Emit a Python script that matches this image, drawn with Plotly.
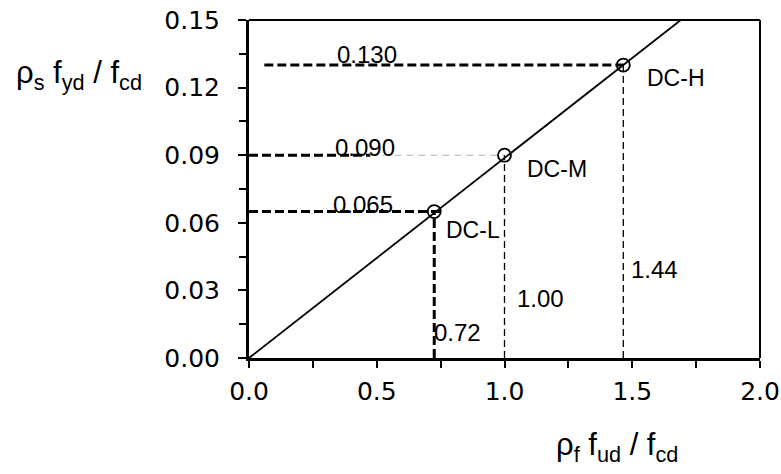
import plotly.graph_objects as go

# ---- data ----
levels = ["DC-L", "DC-M", "DC-H"]
rho_s_ratio = [0.065, 0.090, 0.130]          # rho_s f_yd / f_cd
rho_f_ratio = [0.725, 1.00, 1.465]           # rho_f f_ud / f_cd (marker positions)
rho_f_labels = ["0.72", "1.00", "1.44"]
rho_s_labels = ["0.065", "0.090", "0.130"]
line_x = [0.0, 1.69]
line_y = [0.0, 0.15]
h_guide_start = [0.0, 0.0, 0.06]             # left ends of horizontal guides
h_guide_thick_end = [0.76, 0.475, 1.465]     # end of the bold dashed part
x_ticks = [0.0, 0.5, 1.0, 1.5, 2.0]
y_ticks = [0.00, 0.03, 0.06, 0.09, 0.12, 0.15]

fig = go.Figure()

thick = dict(color="black", width=3, dash="9px,4px")
thin = dict(color="black", width=1.3, dash="7px,4px")
gray = dict(color="#b5b5b5", width=1.1, dash="7px,5px")

# horizontal guides
for i in range(3):
    fig.add_trace(go.Scatter(x=[h_guide_start[i], h_guide_thick_end[i]],
                             y=[rho_s_ratio[i], rho_s_ratio[i]],
                             mode="lines", line=thick, hoverinfo="skip"))
    if h_guide_thick_end[i] < rho_f_ratio[i]:
        fig.add_trace(go.Scatter(x=[h_guide_thick_end[i], rho_f_ratio[i]],
                                 y=[rho_s_ratio[i], rho_s_ratio[i]],
                                 mode="lines", line=gray, hoverinfo="skip"))

# vertical guides
for i in range(3):
    fig.add_trace(go.Scatter(x=[rho_f_ratio[i], rho_f_ratio[i]],
                             y=[0, rho_s_ratio[i]],
                             mode="lines", line=thick if i == 0 else thin,
                             hoverinfo="skip"))

# main line
fig.add_trace(go.Scatter(x=line_x, y=line_y, mode="lines",
                         line=dict(color="black", width=1.8), hoverinfo="skip"))

# points
fig.add_trace(go.Scatter(x=rho_f_ratio, y=rho_s_ratio, mode="markers",
                         marker=dict(symbol="circle-open", size=13,
                                     color="black", line=dict(width=1.8)),
                         text=levels, hoverinfo="text"))

num_font = dict(family="Liberation Sans, Arial", size=24, color="black")
dc_font = dict(family="Liberation Sans, Arial", size=23, color="black")

# value labels and class labels (centres)
label_pos_s = [(0.445, 0.0680), (0.454, 0.0932), (0.462, 0.1345)]
label_pos_f = [(0.816, 0.0115), (1.142, 0.0266), (1.587, 0.0391)]
label_pos_dc = [(0.877, 0.0568), (1.207, 0.0837), (1.671, 0.1243)]
for i in range(3):
    fig.add_annotation(x=label_pos_s[i][0], y=label_pos_s[i][1], text=rho_s_labels[i],
                       showarrow=False, font=num_font, xanchor="center", yanchor="middle")
    fig.add_annotation(x=label_pos_f[i][0], y=label_pos_f[i][1], text=rho_f_labels[i],
                       showarrow=False, font=num_font, xanchor="center", yanchor="middle")
    fig.add_annotation(x=label_pos_dc[i][0], y=label_pos_dc[i][1], text=levels[i],
                       showarrow=False, font=dc_font, xanchor="center", yanchor="middle")

# axis titles
title_font = dict(family="Liberation Sans, Arial", size=31, color="black")
fig.add_annotation(xref="paper", yref="paper", x=-0.3327, y=0.836,
                   text="ρ<sub>s</sub> f<sub>yd</sub> / f<sub>cd</sub>",
                   showarrow=False, font=title_font, xanchor="center", yanchor="middle")
fig.add_annotation(xref="paper", yref="paper", x=0.720, y=-0.262,
                   text="ρ<sub>f</sub> f<sub>ud</sub> / f<sub>cd</sub>",
                   showarrow=False, font=title_font, xanchor="center", yanchor="middle")

# top and right frame (thinner)
fig.add_shape(type="line", xref="paper", yref="paper", x0=0, x1=1, y0=1, y1=1,
              line=dict(color="black", width=2))
fig.add_shape(type="line", xref="paper", yref="paper", x0=1, x1=1, y0=0, y1=1,
              line=dict(color="black", width=2))

tick_font = dict(family="DejaVu Sans", size=25, color="black")

fig.update_xaxes(range=[0, 2], tickvals=x_ticks, ticktext=[f"{v:.1f}" for v in x_ticks],
                 showgrid=False, zeroline=False, showline=True, linecolor="black",
                 linewidth=3, ticks="outside", ticklen=7, tickwidth=2, tickcolor="black",
                 tickfont=tick_font, ticklabelstandoff=2, automargin=False,
                 minor=dict(tickvals=[0.25, 0.75, 1.25, 1.75], ticks="outside",
                            ticklen=7, tickwidth=2, tickcolor="black", showgrid=False))
fig.update_yaxes(range=[0, 0.15], tickvals=y_ticks, ticktext=[f"{v:.2f}" for v in y_ticks],
                 showgrid=False, zeroline=False, showline=True, linecolor="black",
                 linewidth=3, ticks="outside", ticklen=8, tickwidth=2, tickcolor="black",
                 tickfont=tick_font, ticklabelstandoff=13, automargin=False,
                 minor=dict(tickvals=[0.015, 0.045, 0.075, 0.105, 0.135], ticks="outside",
                            ticklen=7, tickwidth=2, tickcolor="black", showgrid=False))

fig.update_layout(width=781, height=474, showlegend=False,
                  plot_bgcolor="white", paper_bgcolor="white",
                  margin=dict(l=249, r=21, t=20, b=116))

fig.write_html("out.html", config={"displayModeBar": False},
               post_script="document.body.style.margin='0';document.body.style.overflow='hidden';")
